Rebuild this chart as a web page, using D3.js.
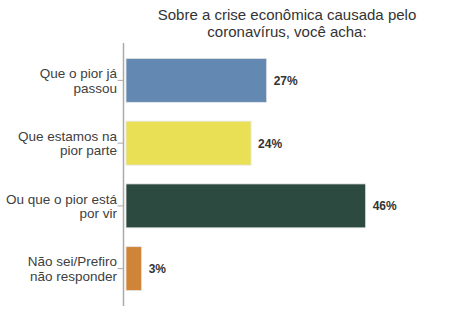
<!DOCTYPE html>
<html>
<head>
<meta charset="utf-8">
<script src="https://cdn.jsdelivr.net/npm/d3@7"></script>
<style>
  html, body { margin: 0; padding: 0; background: #fff; }
  svg { display: block; font-family: "Liberation Sans", Arial, sans-serif; }
</style>
</head>
<body>
<div id="chart"></div>
<script>
const titleLines = ["Sobre a crise econômica causada pelo", "coronavírus, você acha:"];
const categories = ["Que o pior já passou", "Que estamos na pior parte", "Ou que o pior está por vir", "Não sei/Prefiro não responder"];
const categoryLines = [["Que o pior já", "passou"], ["Que estamos na", "pior parte"], ["Ou que o pior está", "por vir"], ["Não sei/Prefiro", "não responder"]];
const values = [27, 24, 46, 3];
const valueLabels = ["27%", "24%", "46%", "3%"];
const colors = ["#6389b2", "#e9e055", "#2c4a3f", "#d08438"];

const W = 456, H = 335;
const svg = d3.select("#chart").append("svg").attr("width", W).attr("height", H);

const axisX = 123.5;
const y = d3.scaleBand().domain(categories).range([49, 300]).paddingInner(0.3).paddingOuter(0.15);
const x = d3.scaleLinear().domain([0, 50]).range([126, 386.5]);

// title
svg.append("text")
  .attr("x", 287).attr("y", 20)
  .attr("text-anchor", "middle")
  .attr("font-size", 15).attr("fill", "#333")
  .selectAll("tspan").data(titleLines).join("tspan")
  .attr("x", 287).attr("dy", (d, i) => i === 0 ? 0 : 17)
  .text(d => d);

// axis
const yAxis = d3.axisLeft(y).tickSize(6).tickFormat("").tickSizeOuter(0);
const g = svg.append("g").attr("transform", `translate(${axisX},0)`).call(yAxis);
g.select(".domain").remove();
g.selectAll(".tick line").attr("stroke", "#aaa").attr("stroke-width", 1);
g.append("line").attr("x1", 0).attr("x2", 0).attr("y1", 43).attr("y2", 306)
  .attr("stroke", "#aaa").attr("stroke-width", 1.5);

// category labels
categories.forEach((c, i) => {
  const cy = y(c) + y.bandwidth() / 2;
  const lines = categoryLines[i];
  lines.forEach((l, j) => {
    svg.append("text")
      .attr("x", 117)
      .attr("y", cy + (j - (lines.length - 1) / 2) * 14.5 + 5)
      .attr("text-anchor", "end")
      .attr("font-size", 13.5).attr("fill", "#404040")
      .text(l);
  });
});

// bars
svg.selectAll("rect.bar").data(values).join("rect")
  .attr("class", "bar")
  .attr("x", x(0))
  .attr("y", (d, i) => y(categories[i]))
  .attr("width", d => x(d) - x(0))
  .attr("height", y.bandwidth())
  .attr("fill", (d, i) => colors[i])
  .attr("stroke", "#e6e6e6").attr("stroke-width", 0.8);

// value labels
svg.selectAll("text.val").data(values).join("text")
  .attr("class", "val")
  .attr("x", d => x(d) + 7)
  .attr("y", (d, i) => y(categories[i]) + y.bandwidth() / 2 + 4.5)
  .attr("font-size", 12).attr("font-weight", "bold").attr("fill", "#333")
  .text((d, i) => valueLabels[i]);
</script>
</body>
</html>
